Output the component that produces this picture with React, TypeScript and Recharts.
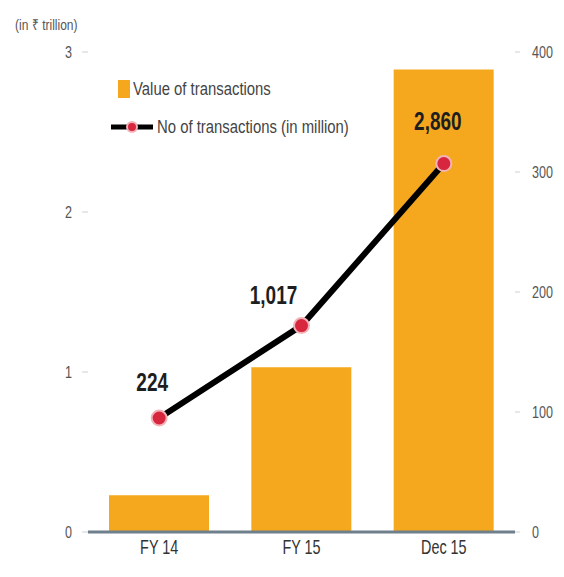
import React from 'react';
import { ComposedChart, Bar, Line, XAxis, YAxis, Legend, LabelList } from 'recharts';

const categories = ['FY 14', 'FY 15', 'Dec 15'];
const valueTrillion = [0.23, 1.03, 2.89];
const countPlotted = [95, 172, 307];
const countLabels = ['224', '1,017', '2,860'];
const leftTicks = [0, 1, 2, 3];
const rightTicks = [0, 100, 200, 300, 400];

const data = categories.map((c, i) => ({
  cat: c,
  value: valueTrillion[i],
  count: countPlotted[i],
  label: countLabels[i],
}));

const FONT = "'Liberation Sans', Arial, sans-serif";
const ORANGE = '#F5A81E';
const RED = '#D7263D';
const labelDx = [-7, -28, -6];
const labelDy = [-27, -22, -34];

const PointLabel = (props: any) => {
  const { x, y, value, index } = props;
  return (
    <g transform={`translate(${x + labelDx[index]},${y + labelDy[index]})`}>
      <text
        transform="scale(0.76,1)"
        textAnchor="middle"
        fontFamily={FONT}
        fontWeight="bold"
        fontSize={25}
        fill="#1e1e1e"
      >
        {value}
      </text>
    </g>
  );
};

const makeTick = (fontSize: number, fill: string, dy: string, sx: number) => (props: any) => {
  const { x, y, payload, textAnchor } = props;
  return (
    <g transform={`translate(${x},${y})`}>
      <text
        transform={`scale(${sx},1)`}
        textAnchor={textAnchor}
        dy={dy}
        fontFamily={FONT}
        fontSize={fontSize}
        fill={fill}
      >
        {payload.value}
      </text>
    </g>
  );
};

const XTick = makeTick(20, '#333', '0.71em', 0.72);
const YTick = makeTick(17, '#555', '0.355em', 0.74);

const renderLegend = (props: any) => {
  const payload = props.payload || [];
  const barItem = payload.find((p: any) => p.dataKey === 'value');
  const lineItem = payload.find((p: any) => p.dataKey === 'count');
  const textStyle: React.CSSProperties = {
    display: 'inline-block',
    transform: 'scaleX(0.85)',
    transformOrigin: 'left center',
    whiteSpace: 'nowrap',
  };
  return (
    <div style={{ fontFamily: FONT, fontSize: 17.5, color: '#444', lineHeight: '20px', textAlign: 'left' }}>
      <div style={{ display: 'flex', alignItems: 'center', height: 20, marginLeft: 8 }}>
        <span style={{ display: 'inline-block', width: 12, height: 18, background: ORANGE, marginRight: 3 }} />
        <span style={textStyle}>{barItem ? barItem.value : 'Value of transactions'}</span>
      </div>
      <div style={{ display: 'flex', alignItems: 'center', height: 20, marginTop: 18 }}>
        <svg width={44} height={14} style={{ marginRight: 3 }}>
          <line x1={1} y1={7} x2={43} y2={7} stroke="#000" strokeWidth={5} />
          <circle cx={22} cy={7} r={5} fill={RED} stroke="#f2b3b8" strokeWidth={2} />
        </svg>
        <span style={textStyle}>{lineItem ? lineItem.value : 'No of transactions (in million)'}</span>
      </div>
    </div>
  );
};

export default function App() {
  return (
    <div style={{ position: 'absolute', left: 0, top: 0, width: 564, height: 577, background: '#fff' }}>
      <div
        style={{
          position: 'absolute',
          left: 15,
          top: 14,
          fontFamily: FONT,
          fontSize: 15,
          color: '#555',
          zIndex: 2,
          transform: 'scaleX(0.8)',
          transformOrigin: 'left center',
          whiteSpace: 'nowrap',
        }}
      >
        (in ₹ trillion)
      </div>
      <ComposedChart width={564} height={577} data={data} margin={{ top: 52, right: 0, left: 0, bottom: 0 }}>
        <XAxis
          dataKey="cat"
          height={45}
          axisLine={{ stroke: '#6f7f8c', strokeWidth: 3 }}
          tickLine={false}
          tickMargin={2}
          tick={XTick}
        />
        <YAxis
          yAxisId="l"
          width={88}
          domain={[0, 3]}
          ticks={leftTicks}
          axisLine={false}
          tickLine={{ stroke: '#d0d0d0' }}
          tickSize={6}
          tickMargin={10}
          tick={YTick}
        />
        <YAxis
          yAxisId="r"
          orientation="right"
          width={49}
          domain={[0, 400]}
          ticks={rightTicks}
          axisLine={false}
          tickLine={{ stroke: '#d0d0d0' }}
          tickSize={5}
          tickMargin={12}
          tick={YTick}
        />
        <Legend
          layout="horizontal"
          verticalAlign="middle"
          align="center"
          content={renderLegend}
          wrapperStyle={{ position: 'absolute', left: 110, top: 79, width: 300, height: 60 }}
        />
        <Bar
          yAxisId="l"
          dataKey="value"
          name="Value of transactions"
          fill={ORANGE}
          barSize={100}
          isAnimationActive={false}
        />
        <Line
          yAxisId="r"
          dataKey="count"
          name="No of transactions (in million)"
          type="linear"
          stroke="#000"
          strokeWidth={6}
          dot={{ r: 7.5, fill: RED, stroke: '#f2b3b8', strokeWidth: 2 }}
          isAnimationActive={false}
        >
          <LabelList dataKey="label" content={PointLabel} />
        </Line>
      </ComposedChart>
    </div>
  );
}
